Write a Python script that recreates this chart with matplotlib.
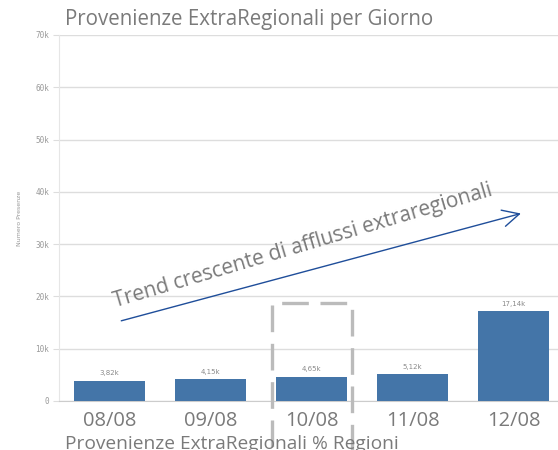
import matplotlib
matplotlib.use("Agg")
import matplotlib.pyplot as plt
from matplotlib.patches import Rectangle

# =========================
# Dati
# =========================
giorni = ["08/08", "09/08", "10/08", "11/08", "12/08"]
presenze = [3820, 4150, 4650, 5120, 17140]
etichette = ["3,82k", "4,15k", "4,65k", "5,12k", "17,14k"]
y_ticks = [0, 10000, 20000, 30000, 40000, 50000, 60000, 70000]
y_tick_labels = ["0", "10k", "20k", "30k", "40k", "50k", "60k", "70k"]

grigio = "#7a7a7a"
blu = "#4475a8"

fig = plt.figure(figsize=(5.58, 4.5), dpi=100)
ax = fig.add_axes([59 / 558, 49 / 450, 505 / 558, 366 / 450])

x = range(len(giorni))
bars = ax.bar(x, presenze, width=0.7, color=blu, zorder=3)
for b, lab in zip(bars, etichette):
    ax.text(b.get_x() + b.get_width() / 2, b.get_height() + 900, lab,
            ha="center", va="bottom", fontsize=5, color="#8a8a8a")

ax.set_xlim(-0.5, 4.5)
ax.set_ylim(0, 70000)
ax.set_yticks(y_ticks)
ax.set_yticklabels(y_tick_labels, fontsize=5.5, color="#999999", family="DejaVu Sans Mono")
ax.set_xticks(list(x))
ax.set_xticklabels(giorni, fontsize=14.5, color=grigio, family="Open Sans")
ax.tick_params(axis="x", length=0, pad=7)
ax.tick_params(axis="y", length=4, color="#dddddd", pad=3)
ax.grid(axis="y", color="#dddddd", lw=1, zorder=0)
for s in ["top", "right"]:
    ax.spines[s].set_visible(False)
ax.spines["left"].set_color("#e6e6e6")
ax.spines["bottom"].set_color("#cccccc")
ax.set_ylabel("Numero Presenze", fontsize=4.5, color="#999999", labelpad=10)

# Box tratteggiato attorno a 10/08
box = Rectangle((1.606, -30000), 0.795, 48700, fill=False, ec="#bbbbbb",
                lw=2.4, ls=(0, (8, 3.5)), zorder=4, clip_on=False)
ax.add_patch(box)

# Freccia del trend
ax.annotate("", xy=(4.1, 36000), xytext=(0.09, 15200),
            arrowprops=dict(arrowstyle="->", color="#1f4e9a", lw=1.0,
                            mutation_scale=30), zorder=5)
ax.text(0.07, 17000, "Trend crescente di afflussi extraregionali", rotation=16.5,
        rotation_mode="anchor", fontsize=15, color=grigio, family="Open Sans",
        ha="left", va="bottom", zorder=5)

fig.text(65 / 558, 1 - 19 / 450, "Provenienze ExtraRegionali per Giorno",
         fontsize=14.8, color=grigio, family="Open Sans", va="center")
fig.text(65 / 558, 1 - 444 / 450, "Provenienze ExtraRegionali % Regioni",
         fontsize=13.8, color=grigio, family="Open Sans", va="center")

fig.savefig("out.png", dpi=100)
